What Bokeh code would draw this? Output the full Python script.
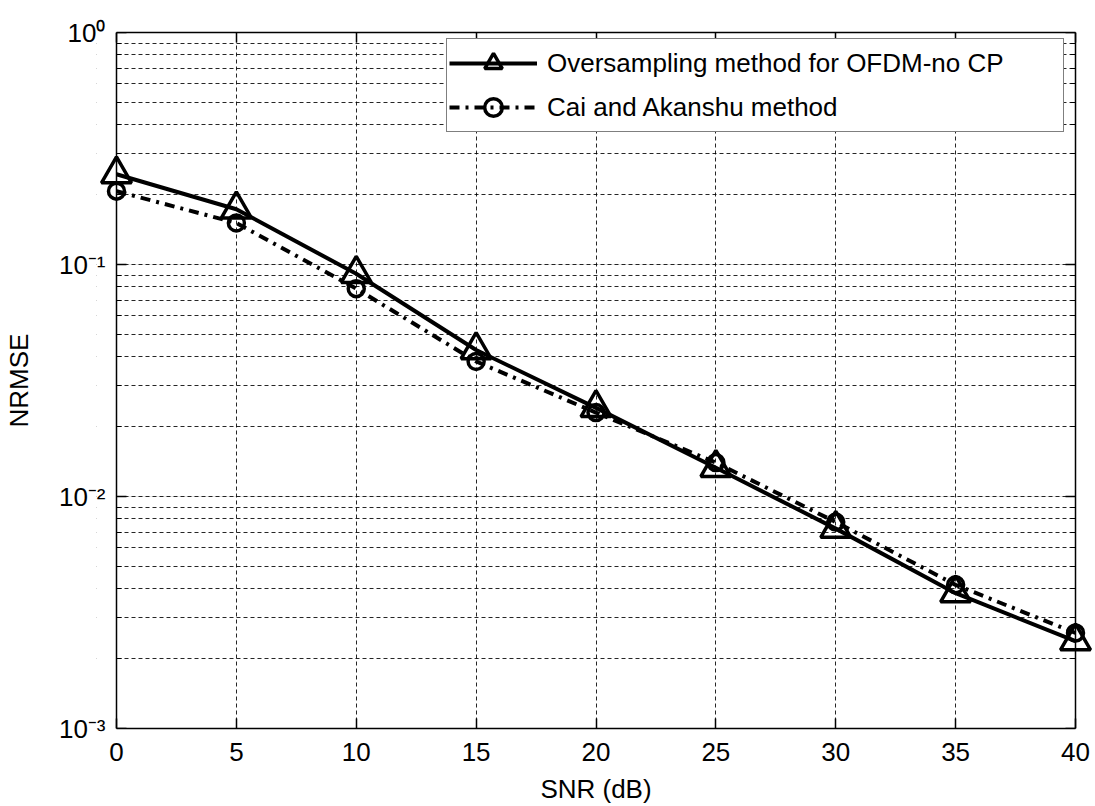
from bokeh.plotting import figure
from bokeh.models import (Range1d, FixedTicker, LinearAxis, LogAxis, Legend,
                          LegendItem, BoxAnnotation, Grid)
from bokeh.embed import file_html
from bokeh.resources import INLINE

# SNR sweep and normalised RMSE of the two estimators
snr_db = [0, 5, 10, 15, 20, 25, 30, 35, 40]
nrmse_oversampling = [0.245, 0.173, 0.0912, 0.0428, 0.0241, 0.0133, 0.00727, 0.00383, 0.00238]
nrmse_cai_akanshu = [0.207, 0.151, 0.0787, 0.0382, 0.0230, 0.0140, 0.00776, 0.00416, 0.00258]

x_ticks = [0, 5, 10, 15, 20, 25, 30, 35, 40]
y_ticks = [1e-3, 1e-2, 1e-1, 1.0]
y_tick_labels = ["10\u207b\u00b3", "10\u207b\u00b2", "10\u207b\u00b9", "10\u2070"]
series_names = ["Oversampling method for OFDM-no CP", "Cai and Akanshu method"]

FONT = "Liberation Sans"
FS = "26px"

X0, X1 = x_ticks[0], x_ticks[-1]
PAD = 0.834  # room so end markers are not cut by the frame

y_minor = [m * d for d in (1e-3, 1e-2, 1e-1) for m in range(2, 10)]
x_ticker = FixedTicker(ticks=x_ticks)
y_ticker = FixedTicker(ticks=y_ticks, minor_ticks=y_minor)

p = figure(width=1095, height=806, y_axis_type="log", x_axis_type=None, y_axis_location=None,
           x_range=Range1d(X0 - PAD, X1 + PAD), y_range=Range1d(1e-3, 1.0),
           output_backend="svg", toolbar_location=None,
           min_border_left=96, min_border_right=0,
           min_border_top=32, min_border_bottom=73)
p.background_fill_color = "white"
p.border_fill_color = "white"
p.outline_line_color = None

# dashed grid
xg = Grid(dimension=0, ticker=x_ticker)
yg = Grid(dimension=1, ticker=y_ticker)
for g in (xg, yg):
    g.grid_line_color = "black"
    g.grid_line_width = 1
    g.grid_line_dash = "4 3"
    g.grid_line_alpha = 0.85
yg.minor_grid_line_color = "black"
yg.minor_grid_line_width = 1
yg.minor_grid_line_dash = "4 3"
yg.minor_grid_line_alpha = 0.85
p.add_layout(xg)
p.add_layout(yg)

# blank the strips outside the axes box
for kw in (dict(right=X0), dict(left=X1)):
    p.add_layout(BoxAnnotation(fill_color="white", fill_alpha=1, line_alpha=0,
                               level="underlay", **kw))


def style(ax, labels=True):
    ax.axis_line_color = "black"
    ax.axis_line_width = 1.5
    ax.major_tick_in = 10
    ax.major_tick_out = 0
    ax.major_tick_line_color = "black"
    ax.major_tick_line_width = 1.5
    ax.minor_tick_in = 5
    ax.minor_tick_out = 0
    ax.minor_tick_line_color = "black"
    ax.major_label_text_font = FONT
    ax.major_label_text_font_size = FS if labels else "1px"
    ax.major_label_text_color = "black"
    if not labels:
        ax.major_label_text_alpha = 0
        ax.major_label_standoff = 0
    ax.axis_label_text_font = FONT
    ax.axis_label_text_font_size = FS
    ax.axis_label_text_font_style = "normal"
    ax.axis_label_text_color = "black"


xa = LinearAxis(ticker=x_ticker, bounds=(X0, X1), axis_label="SNR (dB)")
style(xa)
xa.minor_tick_in = 0
xa.major_label_standoff = 14
xa.axis_label_standoff = 10
p.add_layout(xa, "below")

# left side: labels sit in the border panel, the line and ticks sit on x = 0
ya_labels = LogAxis(ticker=y_ticker, axis_label="NRMSE")
style(ya_labels)
ya_labels.axis_line_color = None
ya_labels.major_tick_line_color = None
ya_labels.minor_tick_line_color = None
ya_labels.major_tick_in = 0
ya_labels.minor_tick_in = 0
ya_labels.major_label_overrides = {t: s for t, s in zip(y_ticks, y_tick_labels)}
ya_labels.major_label_standoff = -9
ya_labels.axis_label_standoff = 22
p.add_layout(ya_labels, "left")

ya_line = LogAxis(ticker=y_ticker, fixed_location=X0)
style(ya_line, labels=False)
p.add_layout(ya_line, "left")

# mirrored ticks on the top and right edges (box style)
top = LinearAxis(ticker=x_ticker, bounds=(X0, X1))
style(top, labels=False)
top.minor_tick_in = 0
p.add_layout(top, "above")
right = LogAxis(ticker=y_ticker, fixed_location=X1)
style(right, labels=False)
p.add_layout(right, "right")

# series
l1 = p.line(snr_db, nrmse_oversampling, line_color="black", line_width=4)
m1 = p.scatter(snr_db, nrmse_oversampling, marker="triangle", size=30,
               line_color="black", line_width=3.5, fill_alpha=0)
l2 = p.line(snr_db, nrmse_cai_akanshu, line_color="black", line_width=4,
            line_dash="10 6 3 6")
m2 = p.scatter(snr_db, nrmse_cai_akanshu, marker="circle", size=16,
               line_color="black", line_width=3.5, fill_alpha=0)

legend = Legend(items=[LegendItem(label=series_names[0], renderers=[l1, m1]),
                       LegendItem(label=series_names[1], renderers=[l2, m2])],
                location=(350, 596))
legend.label_text_font = FONT
legend.label_text_font_size = FS
legend.label_text_color = "black"
legend.glyph_width = 88
legend.glyph_height = 44
legend.label_height = 40
legend.label_width = 514
legend.label_standoff = 10
legend.spacing = 0
legend.padding = 2
legend.margin = 0
legend.border_line_color = "black"
legend.border_line_width = 1.5
legend.background_fill_color = "white"
legend.background_fill_alpha = 1
p.add_layout(legend)

open("out.html", "w").write(file_html(p, INLINE))
